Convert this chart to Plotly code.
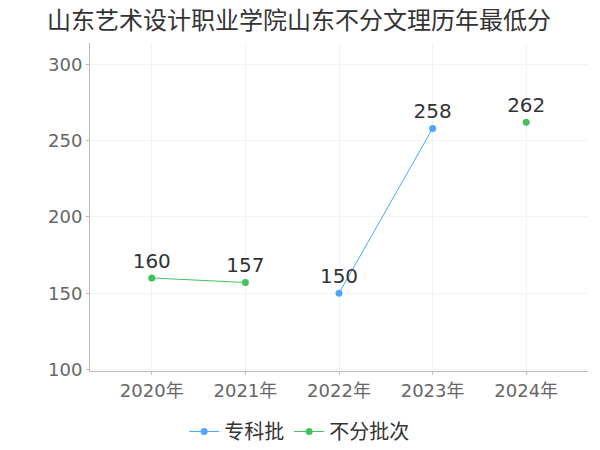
import plotly.graph_objects as go

years = ["2020年", "2021年", "2022年", "2023年", "2024年"]
zhuanke = [None, None, 150, 258, None]
bufen = [160, 157, None, None, 262]

font = "DejaVu Sans, Noto Sans CJK SC"

fig = go.Figure()
fig.add_trace(go.Scatter(x=years, y=zhuanke, name="专科批", mode="lines+markers+text",
                         text=[("" if v is None else str(v)) for v in zhuanke],
                         textposition="top center", textfont=dict(size=20, color="#333"),
                         line=dict(color="#4da6ff", width=1), marker=dict(size=7)))
fig.add_trace(go.Scatter(x=years, y=bufen, name="不分批次", mode="lines+markers+text",
                         text=[("" if v is None else str(v)) for v in bufen],
                         textposition="top center", textfont=dict(size=20, color="#333"),
                         line=dict(color="#44c15a", width=1), marker=dict(size=7)))

fig.update_layout(
    width=600, height=450,
    margin=dict(l=82, r=20, t=35, b=87, autoexpand=False),
    paper_bgcolor="white", plot_bgcolor="white",
    font=dict(family=font, color="#666"),
    title=dict(text="山东艺术设计职业学院山东不分文理历年最低分", x=0.065, xanchor="left",
               y=0.99, yanchor="top", font=dict(size=24, color="#333",
                                                family="Noto Sans CJK SC")),
    showlegend=True,
    legend=dict(orientation="h", x=0.42, xanchor="center", y=-0.125, yanchor="top",
                font=dict(size=20, color="#333", family="Noto Sans CJK SC"), itemwidth=30),
    xaxis=dict(type="category", range=[-0.66, 4.66], showgrid=True, gridcolor="#f3f3f3",
               showline=True, linecolor="#bbb", ticks="outside", tickcolor="#bbb",
               ticklen=3, tickfont=dict(size=18, color="#666"), automargin=False),
    yaxis=dict(range=[99, 314], tickvals=[100, 150, 200, 250, 300], showgrid=True,
               gridcolor="#f3f3f3", showline=True, linecolor="#bbb", ticks="outside",
               tickcolor="#bbb", ticklen=3, zeroline=False, automargin=False,
               tickfont=dict(size=18, color="#666")),
)

fig.write_html("out.html")
